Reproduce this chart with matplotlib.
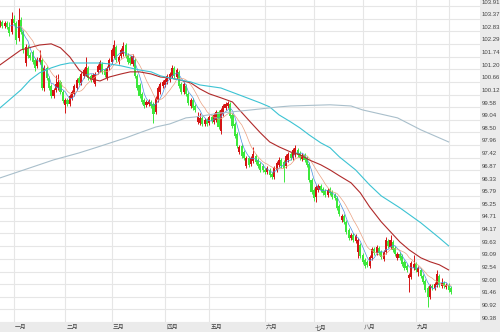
import numpy as np
import pandas as pd
import matplotlib
matplotlib.use("Agg")
from matplotlib import pyplot as plt
import matplotlib.transforms as mtransforms

# Daily candles (index 0 = late December), prices
opens = [103.10, 103.23, 103.06, 103.19, 103.01, 102.80, 103.36, 103.19, 102.54, 103.31,
         102.80, 101.47, 102.12, 101.82, 101.94, 101.60, 101.35, 101.52, 101.60, 100.40,
         101.26, 100.83, 100.49, 100.06, 100.32, 100.40, 100.66, 100.23, 99.68, 99.89,
         99.72, 99.98, 100.15, 100.40, 100.83, 100.62, 100.92, 101.00, 101.26, 100.92,
         100.75, 100.57, 101.09, 101.17, 101.43, 101.17, 100.83, 101.26, 101.52, 101.77,
         102.16, 101.52, 101.77, 101.86, 102.24, 101.82, 101.69, 101.43, 101.60, 100.92,
         100.53, 100.15, 99.89, 99.68, 99.72, 99.80, 99.72, 99.38, 99.89, 100.23,
         100.49, 100.53, 100.66, 100.75, 100.92, 101.26, 100.87, 101.09, 100.57, 100.23,
         100.49, 100.15, 99.63, 99.89, 99.63, 98.95, 98.91, 99.12, 98.86, 99.03,
         98.91, 99.16, 98.95, 99.03, 99.38, 98.56, 99.29, 99.55, 99.63, 99.72,
         99.25, 98.86, 98.43, 97.66, 97.92, 97.66, 97.07, 97.41, 97.15, 97.28,
         97.49, 97.32, 97.15, 97.07, 96.89, 96.81, 96.89, 96.72, 96.59, 96.89,
         97.11, 97.32, 97.24, 97.07, 97.32, 97.58, 97.41, 97.54, 97.75, 97.62,
         97.37, 97.54, 97.41, 97.15, 96.47, 96.04, 95.74, 96.04, 96.21, 96.08,
         96.00, 95.82, 96.08, 95.95, 95.82, 95.70, 95.35, 94.75, 94.92, 94.67,
         94.33, 93.98, 94.11, 93.85, 93.38, 93.68, 93.26, 93.04, 92.96, 92.79,
         93.13, 93.51, 93.34, 93.56, 93.38, 93.09, 93.38, 93.85, 93.60, 93.81,
         93.56, 93.13, 93.30, 93.21, 92.96, 92.79, 92.27, 92.31, 92.70, 92.87,
         92.53, 92.61, 92.36, 92.14, 91.84, 91.46, 91.93, 91.84, 91.97, 92.36,
         91.93, 92.06, 91.89, 91.97, 91.84]
closes = [103.23, 103.06, 103.19, 103.01, 102.76, 103.36, 103.19, 102.46, 103.31, 102.80,
          102.03, 102.16, 101.77, 101.69, 101.52, 101.26, 101.60, 101.69, 100.40, 101.26,
          100.83, 100.40, 100.06, 100.32, 100.57, 100.66, 100.23, 99.85, 99.89, 99.72,
          100.06, 100.23, 100.49, 100.75, 100.62, 101.00, 101.17, 101.30, 100.83, 100.75,
          100.96, 101.00, 101.35, 101.52, 101.09, 100.96, 101.26, 101.60, 102.03, 102.24,
          101.60, 101.73, 102.03, 102.20, 101.77, 101.52, 101.47, 101.77, 100.92, 100.40,
          100.06, 99.80, 99.63, 99.80, 99.85, 99.63, 99.29, 99.98, 100.40, 100.57,
          100.66, 100.75, 100.92, 101.00, 101.26, 100.92, 101.17, 100.49, 100.23, 100.57,
          100.15, 99.76, 99.89, 99.55, 99.46, 99.21, 99.12, 98.86, 99.03, 98.86,
          99.16, 98.99, 99.25, 99.38, 98.73, 99.46, 99.63, 99.72, 99.76, 99.21,
          98.78, 98.35, 97.92, 97.88, 97.49, 97.41, 97.41, 97.11, 97.41, 97.58,
          97.24, 97.07, 96.89, 96.89, 96.81, 96.98, 96.68, 96.59, 96.98, 97.19,
          97.32, 97.07, 96.98, 97.49, 97.58, 97.41, 97.75, 97.84, 97.54, 97.41,
          97.54, 97.32, 97.11, 96.47, 95.95, 95.70, 96.17, 96.21, 96.04, 95.91,
          95.82, 96.04, 95.91, 95.74, 95.70, 95.27, 95.01, 94.92, 94.67, 94.24,
          93.98, 94.11, 93.90, 94.07, 93.90, 93.21, 92.96, 92.79, 92.83, 93.17,
          93.51, 93.34, 93.60, 93.34, 93.17, 93.38, 93.90, 93.64, 93.90, 93.47,
          93.30, 93.30, 93.13, 92.87, 92.70, 92.61, 92.40, 92.91, 92.87, 92.61,
          92.70, 92.36, 92.10, 91.76, 91.46, 91.93, 91.84, 92.01, 92.44, 91.97,
          92.06, 91.93, 91.97, 91.76, 91.67]
highs = [103.31, 103.31, 103.27, 103.27, 103.23, 103.66, 103.53, 103.27, 103.83, 103.44,
         102.89, 102.29, 102.24, 101.94, 102.03, 101.69, 101.73, 102.03, 101.69, 101.39,
         101.35, 100.92, 100.57, 100.40, 100.96, 101.00, 100.75, 100.32, 99.98, 99.98,
         100.15, 100.32, 100.57, 100.83, 100.92, 101.09, 101.26, 101.73, 101.35, 101.00,
         101.05, 101.09, 101.43, 101.60, 101.52, 101.26, 101.35, 101.69, 102.12, 102.46,
         102.24, 101.82, 102.12, 102.37, 102.33, 101.90, 101.77, 101.86, 101.69, 101.00,
         100.62, 100.23, 99.98, 99.89, 99.93, 99.89, 99.80, 100.06, 100.49, 100.66,
         100.75, 100.83, 101.00, 101.09, 101.39, 101.35, 101.26, 101.17, 100.66, 100.66,
         100.57, 100.23, 99.98, 99.98, 99.72, 99.38, 99.33, 99.21, 99.12, 99.12,
         99.25, 99.25, 99.33, 99.46, 99.46, 99.55, 99.72, 99.80, 99.85, 99.80,
         99.33, 98.95, 98.52, 97.96, 98.01, 97.75, 97.49, 97.49, 97.49, 97.88,
         97.58, 97.41, 97.24, 97.15, 96.98, 97.07, 96.98, 96.81, 97.07, 97.28,
         97.45, 97.41, 97.32, 97.58, 97.66, 97.66, 97.84, 97.96, 97.84, 97.71,
         97.62, 97.62, 97.49, 97.24, 96.55, 96.12, 96.25, 96.30, 96.30, 96.17,
         96.08, 96.12, 96.17, 96.04, 95.91, 95.78, 95.44, 95.01, 95.01, 94.75,
         94.41, 94.20, 94.20, 94.15, 93.98, 93.77, 93.34, 93.13, 93.04, 93.26,
         93.60, 93.60, 93.68, 93.64, 93.47, 93.47, 94.03, 93.94, 94.11, 93.90,
         93.64, 93.38, 93.38, 93.30, 93.04, 92.87, 92.49, 93.00, 93.26, 92.96,
         92.79, 92.70, 92.44, 92.23, 91.93, 92.01, 92.01, 92.10, 92.61, 92.44,
         92.27, 92.14, 92.06, 92.06, 91.93]
lows = [103.01, 102.97, 102.97, 102.93, 102.63, 102.71, 103.10, 102.29, 102.42, 102.71,
        101.90, 101.35, 101.69, 101.60, 101.43, 101.13, 101.26, 101.43, 100.32, 100.27,
        100.75, 100.32, 99.98, 99.98, 100.23, 100.32, 100.15, 99.76, 99.33, 99.63,
        99.63, 99.89, 100.06, 100.32, 100.53, 100.53, 100.83, 100.92, 100.75, 100.66,
        100.66, 100.49, 101.00, 101.09, 101.00, 100.87, 100.75, 101.17, 101.43, 101.69,
        101.52, 101.43, 101.69, 101.77, 101.69, 101.43, 101.39, 101.35, 100.83, 100.32,
        99.98, 99.72, 99.55, 99.59, 99.63, 99.55, 98.91, 99.29, 99.80, 100.15,
        100.40, 100.45, 100.57, 100.66, 100.83, 100.83, 100.79, 100.40, 100.15, 100.15,
        100.06, 99.68, 99.55, 99.46, 99.38, 98.86, 98.82, 98.78, 98.78, 98.78,
        98.82, 98.91, 98.86, 98.95, 98.65, 98.43, 99.21, 99.46, 99.55, 99.12,
        98.69, 98.26, 97.84, 97.58, 97.41, 97.32, 96.98, 97.02, 97.07, 97.19,
        97.15, 96.98, 96.81, 96.81, 96.72, 96.72, 96.59, 96.51, 96.51, 96.81,
        97.02, 96.98, 96.38, 96.98, 97.24, 97.32, 97.32, 97.45, 97.45, 97.32,
        97.28, 97.24, 97.02, 96.38, 95.87, 95.57, 95.53, 95.95, 95.95, 95.82,
        95.74, 95.74, 95.82, 95.65, 95.61, 95.18, 94.92, 94.67, 94.58, 94.15,
        93.90, 93.90, 93.81, 93.77, 93.13, 93.13, 92.87, 92.70, 92.74, 92.70,
        93.04, 93.26, 93.26, 93.26, 93.09, 93.00, 93.30, 93.56, 93.51, 93.38,
        93.21, 93.04, 93.04, 92.79, 92.61, 92.53, 91.67, 92.23, 92.61, 92.53,
        92.36, 92.27, 92.01, 91.67, 91.03, 91.37, 91.76, 91.76, 91.89, 91.89,
        91.84, 91.84, 91.80, 91.67, 91.59]

# Longer moving averages (candle index, price)
ma20_idx = [0, 9, 17, 22, 26, 30, 34, 39, 43, 47, 52, 56, 60, 65, 69, 73, 77, 82, 86, 90,
            95, 100, 103, 108, 112, 116, 120, 125, 129, 133, 138, 142, 146, 151, 155, 159,
            164, 168, 172, 176, 181, 185, 189, 193]
ma20 = [101.39, 102.03, 102.24, 102.29, 102.12, 101.73, 101.17, 100.79, 100.70, 100.87,
        101.00, 101.09, 101.09, 101.00, 100.87, 100.83, 100.75, 100.62, 100.36, 100.15,
        99.98, 99.80, 99.46, 98.91, 98.48, 98.09, 97.88, 97.66, 97.54, 97.32,
        97.11, 96.89, 96.64, 96.34, 95.91, 95.31, 94.67, 94.24, 93.81, 93.47,
        93.13, 92.96, 92.83, 92.61]
ma60_idx = [0, 4, 9, 13, 17, 22, 26, 30, 34, 39, 43, 47, 52, 56, 60, 65, 69, 73, 77, 82,
            86, 95, 103, 112, 116, 120, 125, 129, 133, 138, 142, 146, 153, 159, 164, 172,
            181, 189, 193]
ma60 = [99.55, 99.89, 100.32, 100.75, 101.05, 101.26, 101.39, 101.47, 101.47, 101.47,
        101.47, 101.43, 101.35, 101.26, 101.17, 101.09, 100.92, 100.83, 100.75, 100.66,
        100.53, 100.40, 100.10, 99.76, 99.59, 99.25, 98.95, 98.69, 98.39, 98.05,
        97.84, 97.45, 96.89, 96.25, 95.78, 95.27, 94.63, 93.98, 93.64]
ma250_idx = [0, 9, 23, 34, 41, 54, 60, 67, 73, 80, 84, 95, 108, 120, 125, 142, 151, 156,
             171, 181, 193]
ma250 = [96.55, 96.85, 97.32, 97.62, 97.84, 98.26, 98.48, 98.73, 98.86, 99.12, 99.16,
         99.33, 99.46, 99.59, 99.63, 99.68, 99.63, 99.46, 99.12, 98.61, 98.09]

month_idx = [6, 28, 48, 71, 90, 114, 135, 156, 179]
month_labels = ['一月', '二月', '三月', '四月', '五月', '六月', '七月', '八月', '九月']
extra_grid_idx = [193]
ytick_labels = ['103.91', '103.37', '102.83', '102.29', '101.74', '101.20', '100.66',
                '100.12', '99.58', '99.04', '98.50', '97.96', '97.42', '96.87', '96.33',
                '95.79', '95.25', '94.71', '94.17', '93.63', '93.09', '92.54', '92.00',
                '91.46', '90.92', '90.38']

UP = '#d41414'
DOWN = '#3ce83c'

fig = plt.figure(figsize=(5, 3.32), dpi=100, facecolor='#ebebeb')
ax = fig.add_axes([0, 10 / 332, 480 / 500, 322 / 332])
ax.set_facecolor('white')
for s in ax.spines.values():
    s.set_visible(False)
ax.set_xticks([])
ax.set_yticks([])
ax.set_xlim(-0.03, 206.5)
ax.set_ylim(90.38, 104.167)

# grid
for lbl in ytick_labels:
    ax.axhline(float(lbl), color='#e6e6e6', lw=0.8, zorder=0)
for i in month_idx + extra_grid_idx:
    ax.axvline(i, color='#e6e6e6', lw=0.8, zorder=0)

# candles
x = np.arange(len(closes))
o = np.array(opens)
c = np.array(closes)
up = c >= o
colors = np.where(up, UP, DOWN)
ax.vlines(x, lows, highs, colors=colors, lw=0.7, zorder=2)
body = np.maximum(np.abs(c - o), 0.04)
ax.bar(x, body, bottom=np.minimum(o, c), width=0.9, color=colors, lw=0, zorder=3)

# moving averages
close_s = pd.Series(closes)
ax.plot(x, close_s.rolling(5).mean(), color='#4a8fe0', lw=0.5, zorder=4)
ax.plot(x, close_s.rolling(10).mean(), color='#eaa080', lw=0.5, zorder=4)
ax.plot(ma20_idx, ma20, color='#b02a2a', lw=0.8, zorder=4)
ax.plot(ma60_idx, ma60, color='#3cc3d3', lw=0.8, zorder=4)
ax.plot(ma250_idx, ma250, color='#a9bfcb', lw=0.8, zorder=4)

# right axis labels
ytr = mtransforms.blended_transform_factory(ax.transAxes, ax.transData)
yoff = mtransforms.ScaledTranslation(2 / 100, 4 / 100, fig.dpi_scale_trans)
for lbl in ytick_labels:
    ax.text(1.0, float(lbl), lbl, transform=ytr + yoff, ha='left', va='center',
            fontsize=4.3, color='#444444', family='Liberation Sans', clip_on=False)

# month labels
xtr = mtransforms.blended_transform_factory(ax.transData, ax.transAxes)
xoff = mtransforms.ScaledTranslation(0, -5 / 100, fig.dpi_scale_trans)
for i, lbl in zip(month_idx, month_labels):
    ax.text(i + 3, 0, lbl, transform=xtr + xoff, ha='center', va='center',
            fontsize=4.2, color='#444444', family=['Noto Sans CJK SC', 'DejaVu Sans'],
            clip_on=False)

fig.savefig('out.png', dpi=100, facecolor=fig.get_facecolor())
